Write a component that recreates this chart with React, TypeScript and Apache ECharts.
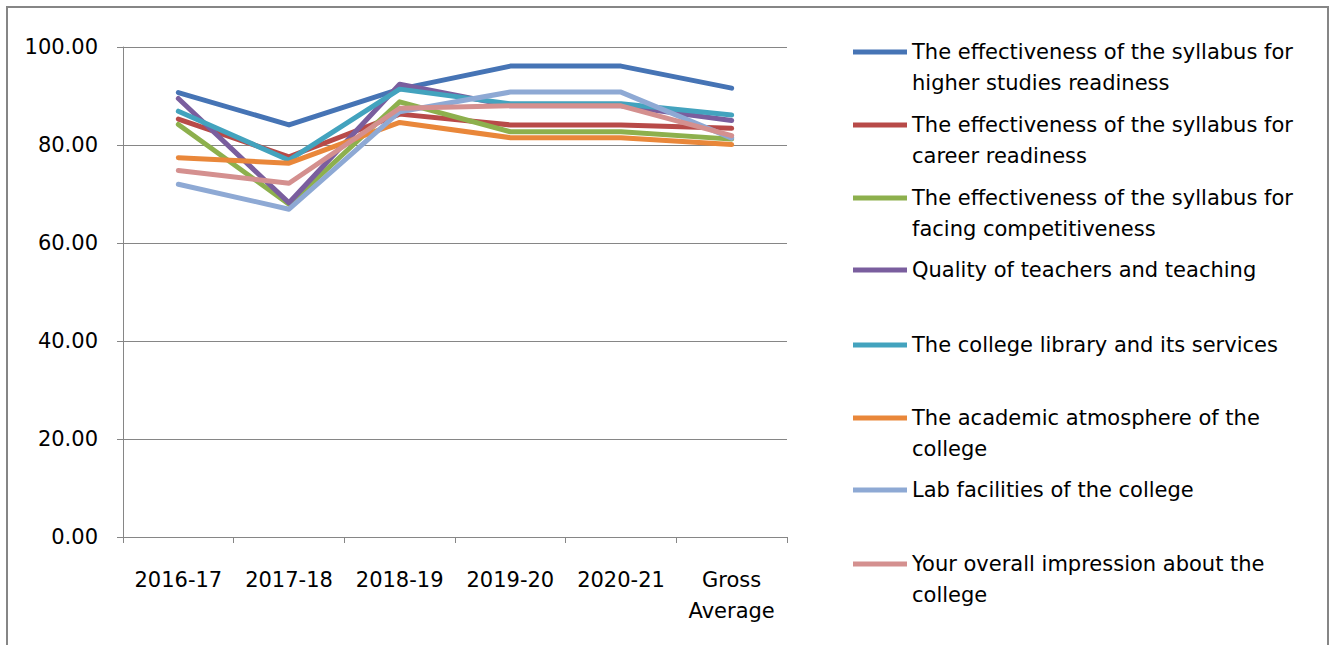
import React, { useEffect, useRef } from "react";
import * as echarts from "echarts";

const categories = ["2016-17", "2017-18", "2018-19", "2019-20", "2020-21", "Gross\nAverage"];
const yTicks = { min: 0, max: 100, interval: 20 };

const seriesNames = [
  "The effectiveness of the syllabus for higher studies readiness",
  "The effectiveness of the syllabus for career readiness",
  "The effectiveness of the syllabus for facing competitiveness",
  "Quality of teachers and teaching",
  "The college library and its services",
  "The academic atmosphere of the college",
  "Lab facilities of the college",
  "Your overall impression about the college",
];

const legendLines = [
  ["The effectiveness of the syllabus for", "higher studies readiness"],
  ["The effectiveness of the syllabus for", "career readiness"],
  ["The effectiveness of the syllabus for", "facing competitiveness"],
  ["Quality of teachers and teaching"],
  ["The college library and its services"],
  ["The academic atmosphere of the", "college"],
  ["Lab facilities of the college"],
  ["Your overall impression about the", "college"],
];

const higherStudies = [90.7, 84.1, 91.4, 96.1, 96.1, 91.6];
const careerReadiness = [85.3, 77.6, 86.3, 84.1, 84.1, 83.4];
const competitiveness = [84.2, 67.9, 88.8, 82.7, 82.7, 81.2];
const teachers = [89.5, 68.2, 92.4, 88.0, 88.0, 85.0];
const library = [86.9, 76.9, 91.4, 88.4, 88.4, 86.1];
const atmosphere = [77.4, 76.3, 84.6, 81.5, 81.5, 80.1];
const labFacilities = [72.0, 66.9, 86.8, 90.8, 90.8, 81.4];
const impression = [74.8, 72.2, 87.5, 88.0, 88.0, 81.9];

const seriesValues = [
  higherStudies,
  careerReadiness,
  competitiveness,
  teachers,
  library,
  atmosphere,
  labFacilities,
  impression,
];

const colors = ["#4674B5", "#B84A48", "#8DB04D", "#7A5E9E", "#43A3BE", "#E9873A", "#8EA9D4", "#D4908F"];

const FONT = "DejaVu Sans";
const legendIconCenters = [52, 125, 198, 270, 345, 418, 490, 564];

export default function App() {
  const ref = useRef<HTMLDivElement>(null);
  useEffect(() => {
    if (!ref.current) return;
    const chart = echarts.init(ref.current, undefined, { renderer: "svg" });
    const lineH = 31;
    const legends = seriesNames.map((name, i) => {
      const lines = legendLines[i];
      const twoLine = lines.length > 1;
      const offset = twoLine ? (3 * lineH) / 2 : lineH / 2;
      return {
        data: [name],
        orient: "vertical",
        left: 853,
        top: legendIconCenters[i] - offset,
        padding: 0,
        icon: "rect",
        itemWidth: 54,
        itemHeight: 5,
        selectedMode: false,
        formatter: () => (twoLine ? "\n" + lines.join("\n") : lines[0]),
        textStyle: { fontFamily: FONT, fontSize: 21, lineHeight: lineH, color: "#000" },
      };
    });
    chart.setOption({
      animation: false,
      color: colors,
      graphic: [
        {
          type: "rect",
          shape: { x: 7, y: 7, width: 1321, height: 700 },
          style: { fill: "none", stroke: "#868686", lineWidth: 2 },
          silent: true,
        },
      ],
      grid: { left: 123, right: 547, top: 47, bottom: 108, containLabel: false },
      legend: legends,
      xAxis: {
        type: "category",
        data: categories,
        boundaryGap: true,
        axisLine: { lineStyle: { color: "#868686", width: 1 } },
        axisTick: { show: true, length: 6, lineStyle: { color: "#868686" } },
        axisLabel: {
          interval: 0,
          margin: 27,
          fontFamily: FONT,
          fontSize: 21,
          lineHeight: 31,
          color: "#000",
        },
      },
      yAxis: {
        type: "value",
        min: yTicks.min,
        max: yTicks.max,
        interval: yTicks.interval,
        axisLine: { show: true, lineStyle: { color: "#868686", width: 1 } },
        axisTick: { show: true, length: 6, lineStyle: { color: "#868686" } },
        splitLine: { lineStyle: { color: "#868686", width: 1 } },
        axisLabel: {
          margin: 25,
          fontFamily: FONT,
          fontSize: 21,
          color: "#000",
          formatter: (v: number) => v.toFixed(2),
        },
      },
      series: seriesNames.map((name, i) => ({
        name,
        type: "line",
        data: seriesValues[i],
        symbol: "none",
        lineStyle: { width: 5, cap: "round", join: "round" },
        emphasis: { disabled: true },
      })),
    });
    return () => chart.dispose();
  }, []);
  return (
    <div
      ref={ref}
      style={{ position: "fixed", left: 0, top: 0, width: 1334, height: 645, background: "#fff" }}
    />
  );
}
